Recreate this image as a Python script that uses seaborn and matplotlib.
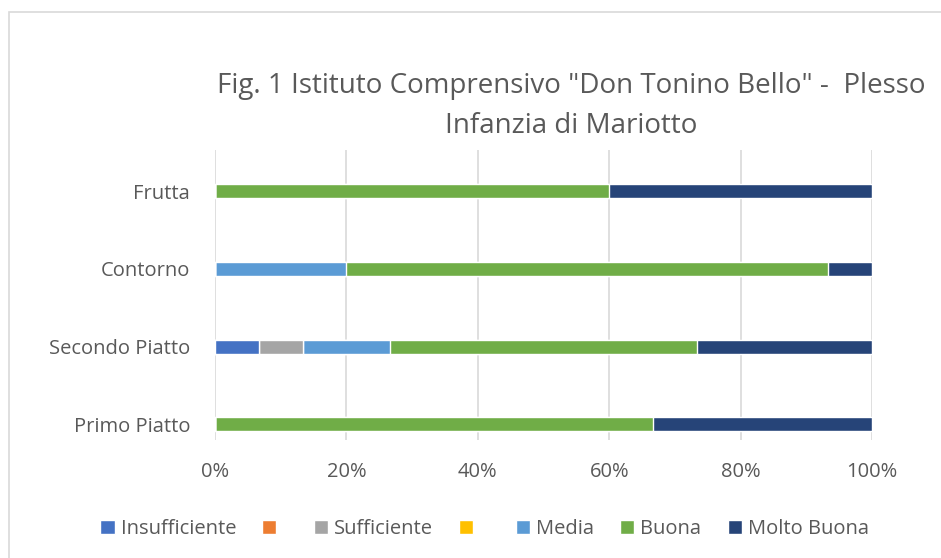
import pandas as pd
import seaborn as sns
import matplotlib.pyplot as plt
from matplotlib.patches import Rectangle, Patch

# Data (shares per course)
courses = ['Frutta', 'Contorno', 'Secondo Piatto', 'Primo Piatto']
series = ['Insufficiente', ' ', 'Sufficiente', '  ', 'Media', 'Buona', 'Molto Buona']
insufficiente = [0.0, 0.0, 0.0667, 0.0]
scarso = [0.0, 0.0, 0.0, 0.0]
sufficiente = [0.0, 0.0, 0.0667, 0.0]
discreto = [0.0, 0.0, 0.0, 0.0]
media = [0.0, 0.20, 0.1333, 0.0]
buona = [0.60, 0.7333, 0.4667, 0.6667]
molto_buona = [0.40, 0.0667, 0.2667, 0.3333]
xticks = [0, 0.2, 0.4, 0.6, 0.8, 1.0]
xticklabels = ['0%', '20%', '40%', '60%', '80%', '100%']

colors = ['#4472C4', '#ED7D31', '#A5A5A5', '#FFC000', '#5B9BD5', '#70AD47', '#264478']

df = pd.DataFrame({'course': courses})
values = [insufficiente, scarso, sufficiente, discreto, media, buona, molto_buona]
for name, vals in zip(series, values):
    df[name] = vals
cum = df[series].cumsum(axis=1)
cum['course'] = courses

sns.set_style('white')
plt.rcParams['font.family'] = ['Open Sans', 'DejaVu Sans']

fig = plt.figure(figsize=(9.41, 5.58), dpi=100)
ax = fig.add_axes([0.2285, 0.2115, 0.6982, 0.5197])

# draw stacked bars from the right end back to the left
for name, col in reversed(list(zip(series, colors))):
    sns.barplot(data=cum, x=name, y='course', order=courses, color=col,
                orient='h', width=0.18, saturation=1, ax=ax)

ax.set_xlim(0, 1)
ax.set_ylim(3.2, -0.53)
ax.set_xticks(xticks)
ax.set_xticklabels(xticklabels)
ax.set_xlabel('')
ax.set_ylabel('')
ax.grid(axis='x', color='#D9D9D9', linewidth=1.2)
ax.set_axisbelow(True)
for s in ax.spines.values():
    s.set_visible(False)
ax.tick_params(axis='both', length=0, labelsize=14.5, colors='#595959')
ax.tick_params(axis='x', pad=16)
ax.tick_params(axis='y', pad=18)

fig.text(0.607, 0.81, 'Fig. 1 Istituto Comprensivo "Don Tonino Bello" -  Plesso\nInfanzia di Mariotto',
         ha='center', va='center', fontsize=20, color='#595959', linespacing=1.55)

handles = [Patch(facecolor=c) for c in colors]
fig.legend(handles, series, loc='center', bbox_to_anchor=(0.515, 0.052), ncol=7,
           frameon=False, fontsize=14.5, handlelength=0.7, handleheight=0.7,
           handletextpad=0.3, columnspacing=1.3, labelcolor='#595959')

fig.patches.append(Rectangle((9 / 941, -0.1), 1.2, 1 - 12 / 558 + 0.1, transform=fig.transFigure,
                             fill=False, edgecolor='#D9D9D9', linewidth=1.2))

fig.savefig('out.png', dpi=100)
